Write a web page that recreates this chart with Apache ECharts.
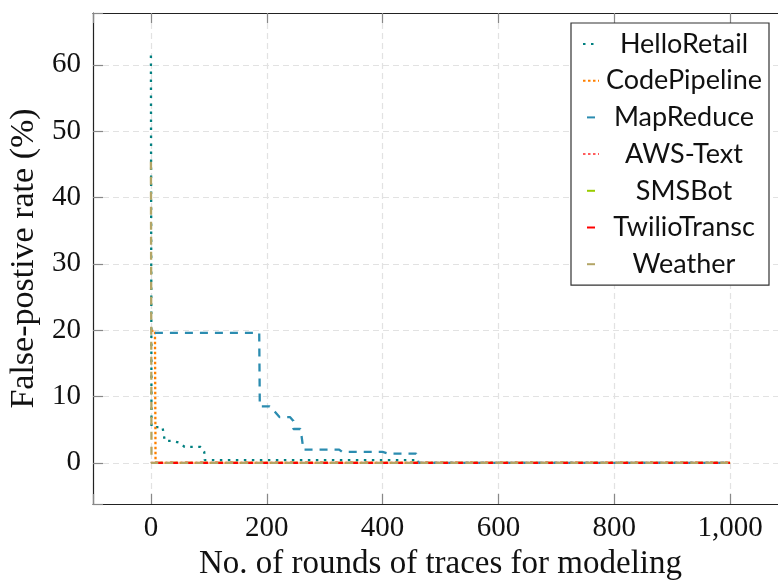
<!DOCTYPE html>
<html>
<head>
<meta charset="utf-8">
<script src="https://cdn.jsdelivr.net/npm/echarts@6/dist/echarts.min.js"></script>
<style>
  html, body { margin: 0; padding: 0; background: #fff; }
  #chart { width: 778px; height: 580px; }
</style>
</head>
<body>
<div id="chart"></div>
<script>
// 刻度
const xTicks = [0, 200, 400, 600, 800, 1000];
const yTicks = [0, 10, 20, 30, 40, 50, 60];

// 各系列数据 [轮数, 误报率]
const helloRetail = [[0, 61.4], [1, 5.4], [20, 5.4], [24, 3.3], [38, 3.3], [51, 3.0], [58, 2.4], [86, 2.4], [92, 1.7], [93, 0.4], [460, 0.4], [462, 0], [1000, 0]];
const codePipeline = [[0, 19.9], [7, 19.9], [8, 0], [1000, 0]];
const mapReduce = [[0, 19.6], [187, 19.6], [188, 8.5], [205, 8.5], [214, 7.7], [222, 6.9], [240, 6.9], [246, 6.3], [246, 5.1], [258, 5.1], [260, 4.1], [262, 2.8], [263, 2.0], [325, 2.0], [330, 1.65], [400, 1.65], [410, 1.4], [458, 1.4], [462, 0], [1000, 0]];
const awsText = [[0, 0], [1000, 0]];
const smsBot = [[0, 0], [1000, 0]];
const twilioTransc = [[0, 0], [1000, 0]];
const weather = [[0, 46], [1, 0], [1000, 0]];

const seriesNames = ['HelloRetail', 'CodePipeline', 'MapReduce', 'AWS-Text', 'SMSBot', 'TwilioTransc', 'Weather'];
const seriesData = [helloRetail, codePipeline, mapReduce, awsText, smsBot, twilioTransc, weather];
const seriesColors = ['#008080', '#ff8000', '#2b8cb0', '#ff5c5c', '#99cc00', '#ff0000', '#b3a566'];
const seriesDash = [[2.5, 5.5], [2.5, 2.5], [8, 7], [2.5, 2.5], [8, 7], [8, 7], [8, 7]];
// 让图例里的虚线居中
const seriesDashOffset = [0, 0, 11, 0, 11, 11, 11];

const serifFont = '"Liberation Serif", "DejaVu Serif", serif';
const sansFont = 'Lato, "Open Sans", sans-serif';

const chart = echarts.init(document.getElementById('chart'), null, { renderer: 'canvas' });

// 只显示指定刻度的标签
function tickLabel(list, fmt) {
    return function (v) {
        const hit = list.find(t => Math.abs(t - v) < 1e-6);
        return hit === undefined ? '' : fmt(hit);
    };
}

const frameAxisLine = { show: true, onZero: false, lineStyle: { color: '#222', width: 1.2 } };
const innerTick = { show: true, inside: true, length: 10, lineStyle: { color: '#888', width: 1.2 } };
const gridLine = { show: true, lineStyle: { color: '#e2e2e2', type: [6, 4], width: 1.2 } };

const option = {
    backgroundColor: '#fff',
    animation: false,
    grid: { left: 93, width: 695, top: 13, height: 491, containLabel: false, outerBoundsMode: 'none' },
    legend: {
        orient: 'vertical',
        left: 571,
        top: 23,
        width: 198,
        padding: [6, 5, 6, 8],
        itemGap: 6.7,
        itemWidth: 16,
        itemHeight: 30,
        itemStyle: { opacity: 0 },
        backgroundColor: '#fff',
        borderColor: '#333',
        borderWidth: 1.2,
        borderRadius: 0,
        data: seriesNames,
        formatter: name => '{t|' + name + '}',
        textStyle: {
            lineHeight: 30,
            rich: {
                t: { width: 160, align: 'center', fontFamily: sansFont, fontSize: 27, lineHeight: 30, color: '#111' }
            }
        }
    },
    xAxis: [{
        type: 'value',
        min: -100,
        max: 1100,
        position: 'bottom',
        name: 'No. of rounds of traces for modeling',
        nameLocation: 'middle',
        nameGap: 42,
        nameTextStyle: { fontFamily: serifFont, fontSize: 33, color: '#111' },
        axisLine: frameAxisLine,
        axisTick: innerTick,
        splitLine: gridLine,
        axisLabel: {
            fontFamily: serifFont, fontSize: 29, color: '#111', margin: 10,
            formatter: tickLabel(xTicks, v => v.toLocaleString('en-US'))
        }
    }, {
        type: 'value',
        min: -100,
        max: 1100,
        position: 'top',
        axisLine: frameAxisLine,
        axisTick: innerTick,
        splitLine: { show: false },
        axisLabel: { show: false }
    }],
    yAxis: [{
        type: 'value',
        min: -6.2,
        max: 67.8,
        position: 'left',
        name: 'False-postive rate (%)',
        nameLocation: 'middle',
        nameGap: 50,
        nameTextStyle: { fontFamily: serifFont, fontSize: 34, color: '#111' },
        axisLine: frameAxisLine,
        axisTick: innerTick,
        splitLine: gridLine,
        axisLabel: {
            fontFamily: serifFont, fontSize: 29, color: '#111', margin: 12,
            formatter: tickLabel(yTicks, v => String(v))
        }
    }, {
        type: 'value',
        min: -6.2,
        max: 67.8,
        position: 'right',
        axisLine: frameAxisLine,
        axisTick: innerTick,
        splitLine: { show: false },
        axisLabel: { show: false }
    }],
    series: seriesNames.map((name, i) => ({
        name: name,
        type: 'line',
        data: seriesData[i],
        showSymbol: false,
        symbol: 'none',
        color: seriesColors[i],
        lineStyle: {
            color: seriesColors[i], width: 2.3, type: seriesDash[i],
            dashOffset: seriesDashOffset[i], cap: 'butt'
        },
        z: 2 + i
    }))
};

chart.setOption(option);
</script>
</body>
</html>
